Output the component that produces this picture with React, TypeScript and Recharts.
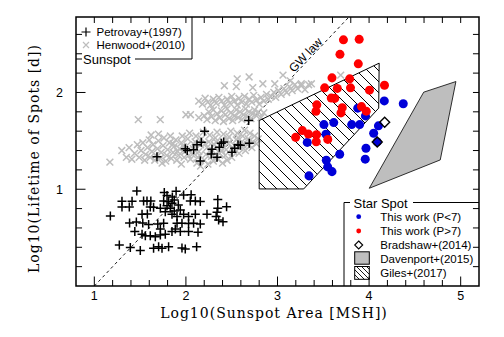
import React from "react"
import { ScatterChart, Scatter, XAxis, YAxis, ReferenceLine, ReferenceArea, ReferenceDot } from "recharts"

document.body.style.margin = "0"

// Henwood+(2010) sunspot groups, [log area, log lifetime]
const henwood: [number, number][] = [
  [1.17, 1.28], [1.3, 1.4], [1.35, 1.33], [1.38, 1.43], [1.41, 1.31], [1.44, 1.37], [1.47, 1.46], [1.49, 1.33],
  [1.51, 1.4], [1.53, 1.48], [1.55, 1.3], [1.56, 1.36], [1.58, 1.43], [1.6, 1.51], [1.61, 1.33], [1.62, 1.56],
  [1.63, 1.39], [1.64, 1.46], [1.66, 1.3], [1.67, 1.35], [1.69, 1.42], [1.7, 1.5], [1.7, 1.57], [1.72, 1.32],
  [1.73, 1.38], [1.74, 1.27], [1.75, 1.45], [1.76, 1.53], [1.78, 1.29], [1.79, 1.35], [1.8, 1.41], [1.82, 1.48],
  [1.83, 1.55], [1.84, 1.32], [1.86, 1.38], [1.87, 1.44], [1.89, 1.51], [1.9, 1.3], [1.92, 1.35], [1.93, 1.42],
  [1.95, 1.26], [1.95, 1.48], [1.96, 1.55], [1.98, 1.33], [1.99, 1.39], [2.01, 1.45], [2.02, 1.52], [2.04, 1.58],
  [2.05, 1.31], [2.07, 1.36], [2.08, 1.42], [2.1, 1.49], [2.11, 1.55], [2.12, 1.27], [2.13, 1.33], [2.14, 1.39],
  [2.16, 1.24], [2.16, 1.46], [2.17, 1.52], [2.19, 1.59], [2.2, 1.3], [2.22, 1.36], [2.23, 1.43], [2.24, 1.26],
  [2.25, 1.49], [2.26, 1.56], [2.28, 1.34], [2.29, 1.4], [2.3, 1.29], [2.31, 1.46], [2.32, 1.53], [2.34, 1.59],
  [2.35, 1.31], [2.37, 1.37], [2.38, 1.44], [2.4, 1.5], [2.4, 1.27], [2.41, 1.57], [2.43, 1.35], [2.44, 1.41],
  [2.45, 1.3], [2.46, 1.47], [2.47, 1.54], [2.49, 1.6], [2.5, 1.33], [2.52, 1.39], [2.53, 1.45], [2.55, 1.51],
  [2.56, 1.58], [2.58, 1.37], [2.59, 1.43], [2.61, 1.49], [2.62, 1.55], [2.64, 1.61], [2.65, 1.4], [2.67, 1.46],
  [2.68, 1.52], [2.7, 1.58], [2.72, 1.43], [2.73, 1.49], [2.75, 1.55], [2.77, 1.47], [2.79, 1.52],
  [1.86, 1.47], [1.91, 1.39], [1.97, 1.44], [2.03, 1.35], [2.09, 1.46], [2.15, 1.35], [2.21, 1.47], [2.27, 1.38],
  [2.33, 1.49], [2.39, 1.4], [2.45, 1.51], [2.51, 1.43], [2.57, 1.53], [2.63, 1.45], [2.69, 1.5],
  [1.48, 1.72], [1.72, 1.72], [2.0, 1.77], [2.05, 1.77], [2.14, 1.74], [2.2, 1.76], [2.23, 1.72], [2.25, 1.8],
  [2.28, 1.75], [2.3, 1.82], [2.32, 1.71], [2.34, 1.78], [2.37, 1.74], [2.39, 1.81], [2.41, 1.7], [2.43, 1.77],
  [2.45, 1.83], [2.47, 1.73], [2.49, 1.79], [2.51, 1.71], [2.53, 1.76], [2.55, 1.82], [2.57, 1.74], [2.59, 1.8],
  [2.61, 1.72], [2.63, 1.77], [2.65, 1.83], [2.67, 1.75], [2.69, 1.8], [2.71, 1.73], [2.73, 1.78], [2.75, 1.82],
  [2.77, 1.76], [2.79, 1.8], [2.82, 1.74], [2.85, 1.79],
  [2.14, 1.91], [2.18, 1.88], [2.21, 1.94], [2.24, 1.9], [2.27, 1.87], [2.3, 1.93], [2.33, 1.89], [2.36, 1.95],
  [2.39, 1.91], [2.42, 1.87], [2.45, 1.93], [2.48, 1.89], [2.5, 1.96], [2.53, 1.91], [2.56, 1.87], [2.58, 1.94],
  [2.61, 1.9], [2.64, 1.96], [2.66, 1.88], [2.69, 1.93], [2.72, 1.9], [2.74, 1.97], [2.77, 1.92], [2.8, 1.88],
  [2.82, 1.95], [2.85, 1.91], [2.88, 1.98], [2.9, 1.93], [2.93, 1.96], [2.96, 2.0], [2.98, 1.95], [3.01, 2.02],
  [3.04, 1.98], [3.07, 2.04], [3.1, 2.0], [3.13, 2.06], [3.16, 2.02], [3.19, 2.08], [3.22, 2.04], [3.26, 2.07],
  [3.3, 2.03], [3.34, 2.08],
  [2.42, 2.07], [2.55, 2.06], [2.56, 2.14], [2.69, 2.16], [2.73, 2.05], [2.84, 2.09], [2.97, 2.09], [3.06, 2.18],
  [3.14, 2.12], [3.26, 2.09], [3.37, 2.09], [3.69, 2.18],
]

// Petrovay+(1997)
const petrovay: [number, number][] = [
  [2.685, 1.71], [2.204, 1.6], [2.168, 1.485], [2.121, 1.46], [1.993, 1.418], [2.015, 1.4], [2.084, 1.407],
  [1.684, 1.335], [2.285, 1.412], [2.277, 1.365], [2.34, 1.33], [2.157, 1.293], [2.386, 1.476], [2.412, 1.487],
  [2.365, 1.433], [2.503, 1.383], [2.532, 1.424], [2.569, 1.459], [2.594, 1.454], [2.692, 1.476],
  [1.464, 0.983], [1.302, 0.876], [1.412, 0.876], [1.302, 0.817], [1.175, 0.724], [1.538, 0.879], [1.575, 0.879],
  [1.617, 0.879], [1.647, 0.814], [1.764, 0.967], [1.794, 0.934], [1.893, 0.979], [1.975, 0.941], [2.057, 0.944],
  [1.757, 0.879], [1.811, 0.872], [1.848, 0.855], [1.794, 0.83], [1.83, 0.803], [2.048, 0.879], [2.103, 0.879],
  [2.157, 0.872], [2.348, 0.895], [2.444, 0.82], [2.348, 0.803], [1.721, 0.803], [1.775, 0.768], [1.521, 0.742],
  [1.385, 0.651], [1.459, 0.662], [1.529, 0.651], [1.593, 0.636], [1.693, 0.641], [1.757, 0.648], [1.848, 0.742],
  [1.903, 0.717], [1.975, 0.742], [2.029, 0.717], [2.103, 0.742], [2.23, 0.742], [1.903, 0.648], [1.957, 0.648],
  [2.029, 0.646], [2.084, 0.648], [2.157, 0.641], [2.33, 0.719], [2.357, 0.683], [2.34, 0.762], [2.405, 0.665],
  [1.442, 0.562], [1.521, 0.535], [1.557, 0.52], [1.611, 0.52], [1.666, 0.51], [1.721, 0.527], [1.775, 0.535],
  [1.848, 0.562], [1.939, 0.562], [2.029, 0.562], [2.132, 0.555], [1.273, 0.424], [1.393, 0.398], [1.502, 0.367],
  [1.647, 0.39], [1.702, 0.406], [1.739, 0.39], [1.811, 0.406], [1.957, 0.393], [1.993, 0.382], [2.117, 0.406],
  [1.852, 0.92], [1.873, 0.89], [1.917, 0.838], [1.939, 0.786], [1.873, 0.775], [1.721, 0.59], [1.884, 0.59],
  [1.611, 0.817], [1.382, 0.817], [1.579, 0.745],
]

// This work, P < 7 d
const thisWorkFast: [number, number][] = [
  [4.166, 1.913], [4.373, 1.884], [3.876, 1.838], [3.96, 1.758], [3.507, 1.668], [3.614, 1.689], [3.81, 1.668],
  [3.897, 1.668], [4.102, 1.655], [4.05, 1.579], [3.529, 1.569], [3.325, 1.484], [4.089, 1.489], [3.966, 1.424],
  [3.679, 1.362], [3.958, 1.311], [3.533, 1.3], [3.548, 1.231], [3.595, 1.182], [3.344, 1.138],
]

// This work, P > 7 d
const thisWorkSlow: [number, number][] = [
  [3.72, 2.544], [3.892, 2.549], [3.682, 2.394], [3.882, 2.296], [3.595, 2.151], [3.788, 2.141], [3.515, 2.048],
  [3.653, 2.042], [3.797, 2.048], [4.004, 2.024], [4.168, 2.075], [3.587, 1.942], [3.625, 1.939], [3.429, 1.872],
  [3.42, 1.805], [3.707, 1.843], [3.693, 1.789], [3.917, 1.854], [3.969, 1.807], [3.271, 1.606], [3.338, 1.57],
  [3.198, 1.536], [3.426, 1.564], [3.423, 1.491], [3.549, 1.515],
]

const bradshaw: [number, number][] = [
  [4.17, 1.693], [4.089, 1.489],
]

// polygon outlines (closed)
const davenport: [number, number][] = [
  [4.596, 2.003], [4.948, 2.113], [4.777, 1.303], [4.002, 1.01], [4.596, 2.003],
]
const giles: [number, number][] = [
  [2.8, 1.71], [4.11, 2.303], [4.105, 1.838], [3.286, 1.003], [2.8, 1.003], [2.8, 1.71],
]

const gwLaw: [number, number][] = [[1, 0], [3.78, 2.78]]

const xLabels = [1, 2, 3, 4, 5]
const yLabels = [1, 2]
const xMinor = [1, 1.2, 1.4, 1.6, 1.8, 2, 2.2, 2.4, 2.6, 2.8, 3, 3.2, 3.4, 3.6, 3.8, 4, 4.2, 4.4, 4.6, 4.8, 5]
const yMinor = [0.2, 0.4, 0.6, 0.8, 1, 1.2, 1.4, 1.6, 1.8, 2, 2.2, 2.4, 2.6]

const X0 = 0.8
const X1 = 5.2
const Y0 = 0
const Y1 = 2.78

const toPts = (arr: [number, number][]) => arr.map(([x, y]) => ({ x, y }))

const sans = "'Liberation Sans', Arial, Helvetica, sans-serif"
const serif = "'DejaVu Serif', serif"

const PlusMark = (p: any) => (
  <path d={`M${p.cx - 4.5},${p.cy}h9M${p.cx},${p.cy - 4.5}v9`} stroke="#000" strokeWidth={1.5} fill="none" />
)
const CrossMark = (p: any) => (
  <path
    d={`M${p.cx - 3.4},${p.cy - 3.4}L${p.cx + 3.4},${p.cy + 3.4}M${p.cx - 3.4},${p.cy + 3.4}L${p.cx + 3.4},${p.cy - 3.4}`}
    stroke="#bdbdbd"
    strokeWidth={1.5}
    fill="none"
  />
)
const Diamond = (p: any) => (
  <path
    d={`M${p.cx},${p.cy - 5}L${p.cx + 5},${p.cy}L${p.cx},${p.cy + 5}L${p.cx - 5},${p.cy}Z`}
    stroke="#000"
    strokeWidth={1.4}
    fill="none"
  />
)
const NoMark = () => <g />

function Overlay() {
  return (
    <svg width={504} height={337} style={{ position: "absolute", left: 0, top: 0, pointerEvents: "none" }}>
      <defs>
        <pattern id="hatch" patternUnits="userSpaceOnUse" width={11} height={11}>
          <path d="M0,0L11,11M-2,9L2,13M9,-2L13,2" stroke="#000" strokeWidth={1} />
        </pattern>
        <pattern id="hatchSmall" patternUnits="userSpaceOnUse" width={5} height={5}>
          <path d="M0,0L5,5M-1,4L1,6M4,-1L6,1" stroke="#000" strokeWidth={0.9} />
        </pattern>
      </defs>

      {/* Sunspot legend */}
      <path d="M192,17V59H135M76,59H82" stroke="#000" strokeWidth={1} fill="none" />
      <path d="M81.5,32h9M86,27.5v9" stroke="#000" strokeWidth={1.2} />
      <text x={96.5} y={35.8} fontSize={11.5} fontFamily={sans}>Petrovay+(1997)</text>
      <path d="M83,42L89,48M83,48L89,42" stroke="#bdbdbd" strokeWidth={1.2} />
      <text x={96.5} y={49.2} fontSize={11.5} fontFamily={sans}>Henwood+(2010)</text>
      <text x={83} y={63.8} fontSize={13} fontFamily={sans}>Sunspot</text>

      {/* Star spot legend */}
      <path d="M344,286V202.5H350M413,202.5H479" stroke="#000" strokeWidth={1} fill="none" />
      <text x={353.5} y={207.6} fontSize={13} fontFamily={sans}>Star Spot</text>
      <circle cx={358.7} cy={216.7} r={2.4} fill="#0000d8" />
      <text x={380.3} y={220.9} fontSize={11.5} fontFamily={sans}>This work (P&lt;7)</text>
      <circle cx={358.7} cy={231} r={2.4} fill="#ff0000" />
      <text x={380.3} y={235.2} fontSize={11.5} fontFamily={sans}>This work (P&gt;7)</text>
      <path d="M358.7,241L362.7,245L358.7,249L354.7,245Z" stroke="#000" strokeWidth={1.1} fill="none" />
      <text x={380.3} y={249.2} fontSize={11.5} fontFamily={sans}>Bradshaw+(2014)</text>
      <rect x={354.7} y={251.8} width={14.6} height={12.4} fill="#bebebe" stroke="#000" strokeWidth={1} />
      <text x={380.3} y={262.5} fontSize={11.5} fontFamily={sans}>Davenport+(2015)</text>
      <rect x={354.7} y={266.5} width={14.6} height={12.8} fill="url(#hatchSmall)" stroke="#000" strokeWidth={1} />
      <text x={380.3} y={277.2} fontSize={11.5} fontFamily={sans}>Giles+(2017)</text>

      {/* axis titles */}
      <text x={274} y={317.5} fontSize={14} fontFamily={serif} letterSpacing={1} textAnchor="middle">
        Log10(Sunspot Area [MSH])
      </text>
      <text
        x={0}
        y={0}
        transform="translate(38.5,158.5) rotate(-90)"
        fontSize={14}
        fontFamily={serif}
        letterSpacing={1}
        textAnchor="middle"
      >
        Log10(Lifetime of Spots [d])
      </text>
    </svg>
  )
}

export default function App() {
  const tickStyle = { fontSize: 12.5, fill: "#000", fontFamily: sans }
  return (
    <div style={{ position: "relative", width: 504, height: 337, background: "#fff" }}>
      <ScatterChart width={504} height={337} margin={{ top: 17, right: 25, bottom: 0, left: 0 }}>
        <XAxis
          type="number"
          dataKey="x"
          domain={[X0, X1]}
          ticks={xLabels}
          allowDataOverflow
          height={51}
          axisLine={false}
          tickLine={false}
          tickSize={3}
          tickMargin={2}
          tick={tickStyle}
        />
        <YAxis
          type="number"
          dataKey="y"
          domain={[Y0, Y1]}
          ticks={yLabels}
          allowDataOverflow
          width={76}
          axisLine={false}
          tickLine={false}
          tickSize={6}
          tickMargin={7}
          tick={tickStyle}
        />

        <Scatter data={toPts(henwood)} shape={CrossMark} isAnimationActive={false} />
        <Scatter data={toPts(petrovay)} shape={PlusMark} isAnimationActive={false} />

        <ReferenceLine
          segment={toPts(gwLaw)}
          stroke="#000"
          strokeWidth={0.9}
          strokeDasharray="3 3"
          ifOverflow="visible"
        />
        <ReferenceDot
          x={3.305}
          y={2.389}
          r={0}
          stroke="none"
          ifOverflow="visible"
          label={{ value: "GW law", angle: -46.6, position: "center", fontSize: 12, fill: "#000", fontFamily: sans }}
        />

        <Scatter
          data={toPts(giles)}
          shape={NoMark}
          line={{ stroke: "#000", strokeWidth: 1, fill: "url(#hatch)" }}
          isAnimationActive={false}
        />
        <Scatter
          data={toPts(davenport)}
          shape={NoMark}
          line={{ stroke: "#000", strokeWidth: 0.8, fill: "#bebebe" }}
          isAnimationActive={false}
        />

        <Scatter data={toPts(thisWorkFast)} fill="#0000d8" isAnimationActive={false} />
        <Scatter data={toPts(thisWorkSlow)} fill="#ff0000" isAnimationActive={false} />
        <Scatter data={toPts(bradshaw)} shape={Diamond} isAnimationActive={false} />

        {xMinor.map((v) => (
          <ReferenceLine
            key={`xb${v}`}
            segment={[{ x: v, y: Y0 }, { x: v, y: Y0 + (xLabels.includes(v) ? 0.098 : 0.062) }]}
            stroke="#000"
            strokeWidth={1}
          />
        ))}
        {xMinor.map((v) => (
          <ReferenceLine key={`xt${v}`} segment={[{ x: v, y: Y1 }, { x: v, y: Y1 - 0.062 }]} stroke="#000" strokeWidth={1} />
        ))}
        {yMinor.map((v) => (
          <ReferenceLine
            key={`yl${v}`}
            segment={[{ x: X0, y: v }, { x: X0 + (yLabels.includes(v) ? 0.104 : 0.066), y: v }]}
            stroke="#000"
            strokeWidth={1}
          />
        ))}
        {yMinor.map((v) => (
          <ReferenceLine key={`yr${v}`} segment={[{ x: X1, y: v }, { x: X1 - 0.066, y: v }]} stroke="#000" strokeWidth={1} />
        ))}

        <ReferenceArea x1={X0} x2={X1} y1={Y0} y2={Y1} fill="none" stroke="#000" strokeWidth={1.5} fillOpacity={0} />
      </ScatterChart>
      <Overlay />
    </div>
  )
}
